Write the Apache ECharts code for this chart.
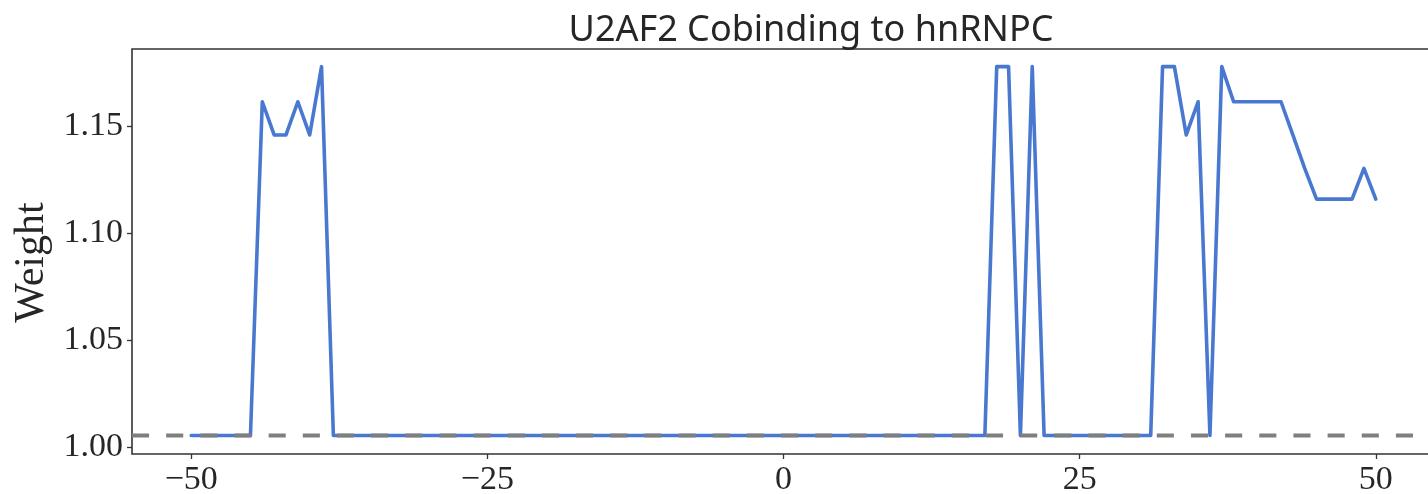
<!DOCTYPE html>
<html>
<head>
<meta charset="utf-8">
<script src="https://cdn.jsdelivr.net/npm/echarts@6/dist/echarts.min.js"></script>
<style>
  html, body { margin: 0; padding: 0; background: #ffffff; }
  #chart { width: 1428px; height: 494px; }
</style>
</head>
<body>
<div id="chart"></div>
<script>
// Position relative to the hnRNPC site
const positions = [
  -50, -49, -48, -47, -46, -45, -44, -43, -42, -41, -40, -39, -38, -37, -36, -35, -34,
  -33, -32, -31, -30, -29, -28, -27, -26, -25, -24, -23, -22, -21, -20, -19, -18, -17,
  -16, -15, -14, -13, -12, -11, -10, -9, -8, -7, -6, -5, -4, -3, -2, -1, 0,
  1, 2, 3, 4, 5, 6, 7, 8, 9, 10, 11, 12, 13, 14, 15, 16, 17,
  18, 19, 20, 21, 22, 23, 24, 25, 26, 27, 28, 29, 30, 31, 32, 33, 34,
  35, 36, 37, 38, 39, 40, 41, 42, 43, 44, 45, 46, 47, 48, 49, 50
];

// U2AF2 cobinding weight at each position
const weights = [
  1.0054, 1.0054, 1.0054, 1.0054, 1.0054, 1.0054, 1.1613, 1.1458, 1.1458, 1.1613, 1.1458, 1.1777, 1.0054, 1.0054, 1.0054, 1.0054, 1.0054,
  1.0054, 1.0054, 1.0054, 1.0054, 1.0054, 1.0054, 1.0054, 1.0054, 1.0054, 1.0054, 1.0054, 1.0054, 1.0054, 1.0054, 1.0054, 1.0054, 1.0054,
  1.0054, 1.0054, 1.0054, 1.0054, 1.0054, 1.0054, 1.0054, 1.0054, 1.0054, 1.0054, 1.0054, 1.0054, 1.0054, 1.0054, 1.0054, 1.0054, 1.0054,
  1.0054, 1.0054, 1.0054, 1.0054, 1.0054, 1.0054, 1.0054, 1.0054, 1.0054, 1.0054, 1.0054, 1.0054, 1.0054, 1.0054, 1.0054, 1.0054, 1.0054,
  1.1777, 1.1777, 1.0054, 1.1777, 1.0054, 1.0054, 1.0054, 1.0054, 1.0054, 1.0054, 1.0054, 1.0054, 1.0054, 1.0054, 1.1777, 1.1777, 1.1458,
  1.1613, 1.0054, 1.1777, 1.1613, 1.1613, 1.1613, 1.1613, 1.1613, 1.1458, 1.1302, 1.1158, 1.1158, 1.1158, 1.1158, 1.1302, 1.1158
];

// Background (minimum) weight reference level
const baselineWeight = 1.0054;

const xTicks = [-50, -25, 0, 25, 50];
const yTicks = [1.00, 1.05, 1.10, 1.15];
const xRange = [-55, 55];
const yRange = [0.99673, 1.18595];

const titleText = 'U2AF2 Cobinding to hnRNPC';
const yName = 'Weight';

const serif = '"Liberation Serif", "DejaVu Serif", serif';
const ink = '#262626';

const chart = echarts.init(document.getElementById('chart'), null, { renderer: 'canvas' });

chart.setOption({
  animation: false,
  backgroundColor: '#ffffff',
  title: {
    text: titleText,
    left: 806,
    top: 8,
    textAlign: 'center',
    textStyle: {
      fontFamily: '"Noto Sans", "Open Sans", sans-serif',
      fontWeight: 'normal',
      fontSize: 36,
      color: ink
    }
  },
  grid: {
    left: 132,
    top: 49,
    width: 1303,
    height: 405,
    show: true,
    borderColor: '#333333',
    borderWidth: 1.6,
    containLabel: false,
    outerBoundsMode: 'none'
  },
  xAxis: {
    type: 'value',
    min: xRange[0],
    max: xRange[1],
    splitLine: { show: false },
    axisLine: { show: false, onZero: false },
    axisTick: {
      show: true,
      length: 5,
      customValues: xTicks,
      lineStyle: { color: '#333333', width: 1.3 }
    },
    axisLabel: {
      customValues: xTicks,
      margin: 9,
      fontFamily: serif,
      fontSize: 34,
      color: ink,
      formatter: v => String(v).replace('-', '\u2212')
    }
  },
  yAxis: {
    type: 'value',
    min: yRange[0],
    max: yRange[1],
    name: yName,
    nameLocation: 'middle',
    nameRotate: 90,
    nameGap: 78,
    nameTextStyle: {
      fontFamily: serif,
      fontSize: 42,
      color: ink,
      padding: [0, 22, 0, 0]
    },
    splitLine: { show: false },
    axisLine: { show: false, onZero: false },
    axisTick: {
      show: true,
      length: 5,
      customValues: yTicks,
      lineStyle: { color: '#333333', width: 1.3 }
    },
    axisLabel: {
      customValues: yTicks,
      margin: 9,
      fontFamily: serif,
      fontSize: 34,
      color: ink,
      formatter: v => v.toFixed(2)
    }
  },
  series: [
    {
      name: 'weight',
      type: 'line',
      data: positions.map((p, i) => [p, weights[i]]),
      showSymbol: false,
      symbol: 'none',
      lineStyle: { color: '#4878d0', width: 3.6, join: 'round', cap: 'round' },
      z: 2
    },
    {
      name: 'baseline',
      type: 'line',
      data: [[xRange[0], baselineWeight], [xRange[1], baselineWeight]],
      showSymbol: false,
      symbol: 'none',
      lineStyle: { color: '#7f7f7f', width: 4, type: [17.08, 17.08], cap: 'butt' },
      z: 3
    }
  ]
});
</script>
</body>
</html>
